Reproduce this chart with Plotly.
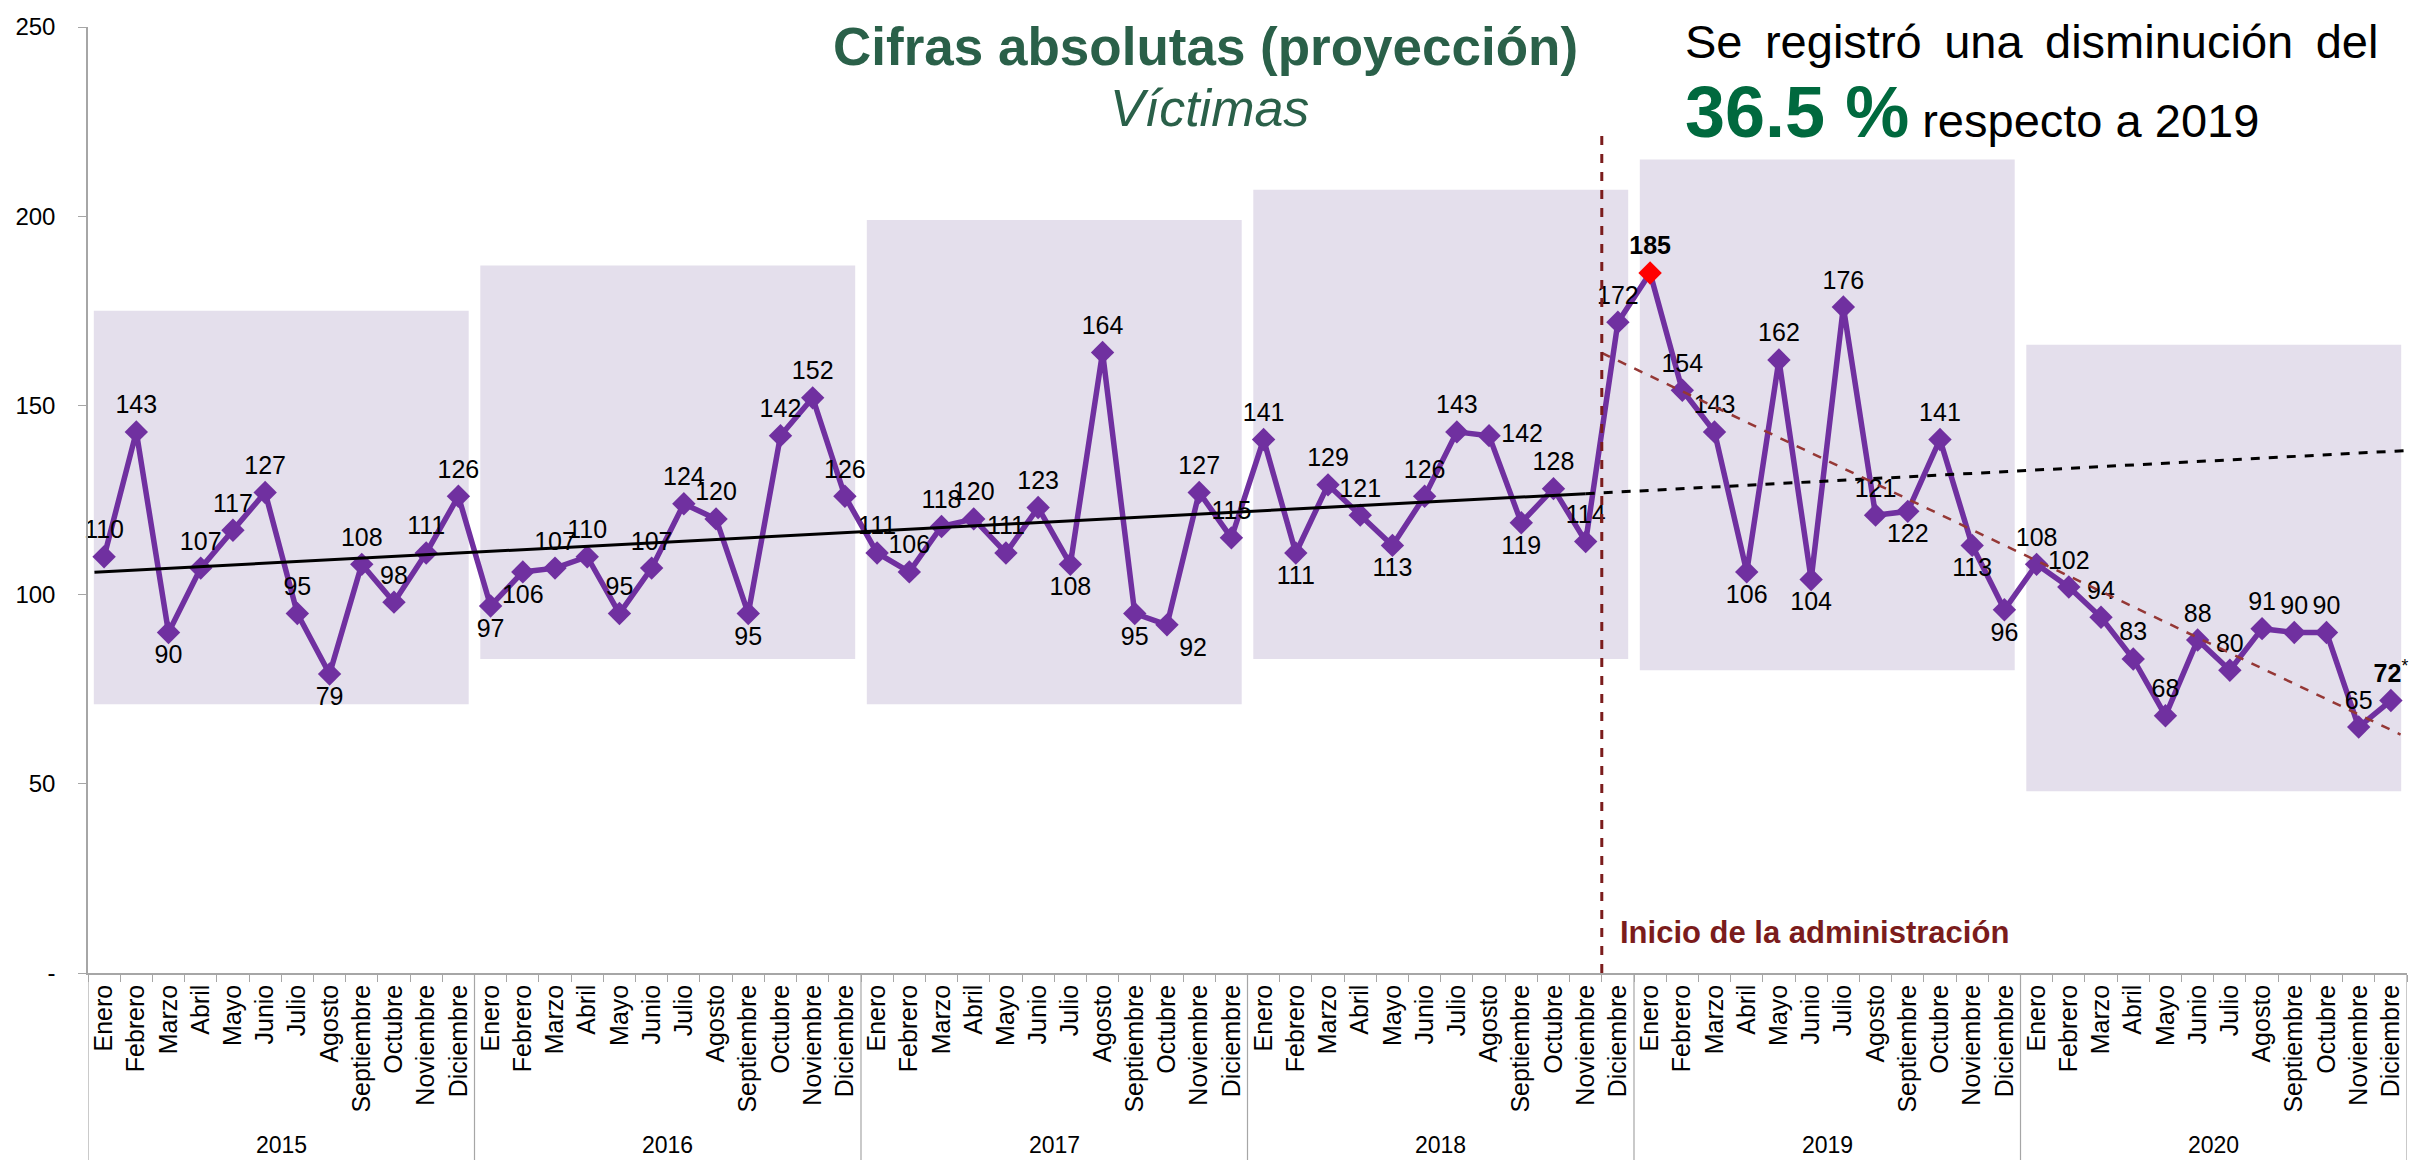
import plotly.graph_objects as go
import numpy as np

# ---------------- data ----------------
years = ["2015", "2016", "2017", "2018", "2019", "2020"]
months = ["Enero", "Febrero", "Marzo", "Abril", "Mayo", "Junio", "Julio",
          "Agosto", "Septiembre", "Octubre", "Noviembre", "Diciembre"]
v2015 = [110, 143, 90, 107, 117, 127, 95, 79, 108, 98, 111, 126]
v2016 = [97, 106, 107, 110, 95, 107, 124, 120, 95, 142, 152, 126]
v2017 = [111, 106, 118, 120, 111, 123, 108, 164, 95, 92, 127, 115]
v2018 = [141, 111, 129, 121, 113, 126, 143, 142, 119, 128, 114, 172]
v2019 = [185, 154, 143, 106, 162, 104, 176, 121, 122, 141, 113, 96]
v2020 = [108, 102, 94, 83, 68, 88, 80, 91, 90, 90, 65, 72]
y_tick_vals = [0, 50, 100, 150, 200, 250]
y_tick_text = ["-", "50", "100", "150", "200", "250"]
# shaded year panels (low, high)
band_low = [71, 83, 71, 83, 80, 48]
band_high = [175, 187, 199, 207, 215, 166]

# ---------------- styling ----------------
TC, BC = "top center", "bottom center"
pos2015 = [TC, TC, BC, TC, TC, TC, TC, BC, TC, TC, TC, TC]
pos2016 = [BC, BC, TC, TC, TC, TC, TC, TC, BC, TC, TC, TC]
pos2017 = [TC, TC, TC, TC, TC, TC, BC, TC, BC, "bottom right", TC, TC]
pos2018 = [TC, BC, TC, TC, BC, TC, TC, "middle right", BC, TC, TC, TC]
pos2019 = [TC, TC, TC, BC, TC, BC, TC, TC, BC, TC, BC, BC]
pos2020 = [TC] * 12

FONT = "Liberation Sans, Arial, sans-serif"
PURPLE = "#7030A0"
BAND = "#E4DFEC"
DARKRED = "#7B1C1C"
TREND_RED = "#953735"

values = v2015 + v2016 + v2017 + v2018 + v2019 + v2020
positions = pos2015 + pos2016 + pos2017 + pos2018 + pos2019 + pos2020
n = len(values)
x = list(range(n))
labels = [m for _ in years for m in months]

imax = int(np.argmax(values))
texts = []
for i, v in enumerate(values):
    if i == imax:
        texts.append(f"<b>{v}</b>")
    elif i == n - 1:
        texts.append(f"<b>{v}</b><sup>*</sup>")
    else:
        texts.append(str(v))
mcolors = [("#FF0000" if i == imax else PURPLE) for i in range(n)]

# pixel geometry of plot area
W, H = 2412, 1160
L, R, T, B = 88, 2407, 27, 973


def px(xp):
    return (xp - L) / (R - L)


def py(yp):
    return (B - yp) / (B - T)


fig = go.Figure()

# shaded year bands
for k in range(len(years)):
    fig.add_shape(type="rect", xref="x", yref="y",
                  x0=12 * k - 0.5 + 0.18, x1=12 * k + 11.5 - 0.18,
                  y0=band_low[k], y1=band_high[k],
                  fillcolor=BAND, line=dict(width=0), layer="below")

# year separator lines below axis
for k in range(len(years) + 1):
    fig.add_shape(type="line", xref="x", yref="paper",
                  x0=12 * k - 0.5, x1=12 * k - 0.5, y0=0, y1=-0.25,
                  line=dict(color="#A6A6A6", width=1.2))

# main series
fig.add_trace(go.Scatter(
    x=x, y=values, mode="lines+markers+text",
    line=dict(color=PURPLE, width=5.5),
    marker=dict(symbol="diamond", size=18, color=mcolors,
                line=dict(width=0)),
    text=texts, textposition=positions,
    textfont=dict(family=FONT, size=25, color="#000000"),
    cliponaxis=False, showlegend=False, hoverinfo="x+y"))

# linear trend 2015 - Nov 2018
n_pre = 47
c_pre = np.polyfit(np.arange(n_pre), np.array(values[:n_pre]), 1)
xs_solid = np.array([-0.3, n_pre - 1])
xs_dash = np.array([n_pre - 1, n - 0.5])
fig.add_trace(go.Scatter(x=xs_solid, y=np.polyval(c_pre, xs_solid), mode="lines",
                         line=dict(color="#000000", width=3), showlegend=False, hoverinfo="skip"))
fig.add_trace(go.Scatter(x=xs_dash, y=np.polyval(c_pre, xs_dash), mode="lines",
                         line=dict(color="#000000", width=3, dash="dash"), showlegend=False,
                         hoverinfo="skip"))

# linear trend Dec 2018 - Dec 2020
x_post = np.arange(n_pre, n)
c_post = np.polyfit(x_post, np.array(values[n_pre:]), 1)
xs_post = np.array([46.5, n - 0.7])
fig.add_trace(go.Scatter(x=xs_post, y=np.polyval(c_post, xs_post), mode="lines",
                         line=dict(color=TREND_RED, width=2.5, dash="dash"), showlegend=False,
                         hoverinfo="skip"))

# start of administration line
fig.add_shape(type="line", xref="x", yref="y", x0=46.5, x1=46.5, y0=0, y1=223,
              line=dict(color=DARKRED, width=3, dash="dash"))

# year labels
for k, yr in enumerate(years):
    fig.add_annotation(x=12 * k + 5.5, xref="x", y=py(1145), yref="paper",
                       text=yr, showarrow=False, xanchor="center", yanchor="middle",
                       font=dict(family=FONT, size=23, color="#000000"))

# titles
fig.add_annotation(x=px(1205), y=py(46), xref="paper", yref="paper",
                   text="<b>Cifras absolutas (proyección)</b>", showarrow=False,
                   xanchor="center", yanchor="middle",
                   font=dict(family=FONT, size=53, color="#2A6049"))
fig.add_annotation(x=px(1209), y=py(108), xref="paper", yref="paper",
                   text="<i>Víctimas</i>", showarrow=False,
                   xanchor="center", yanchor="middle",
                   font=dict(family=FONT, size=52, color="#2A6049"))

sp = "\u00a0\u2009"
fig.add_annotation(x=px(1683), y=py(42), xref="paper", yref="paper",
                   text=sp.join(["Se", "registró", "una", "disminución", "del"]),
                   showarrow=False, xanchor="left", yanchor="middle",
                   font=dict(family=FONT, size=47, color="#000000"))
fig.add_annotation(x=px(1683), y=py(112), xref="paper", yref="paper",
                   text="<span style='font-size:72px;color:#00693E'><b>36.5 %</b></span> respecto a 2019",
                   showarrow=False, xanchor="left", yanchor="middle",
                   font=dict(family=FONT, size=47, color="#000000"))

fig.add_annotation(x=px(1618), y=py(932), xref="paper", yref="paper",
                   text="<b>Inicio de la administración</b>", showarrow=False,
                   xanchor="left", yanchor="middle",
                   font=dict(family=FONT, size=31, color=DARKRED))

fig.update_layout(
    width=W, height=H,
    margin=dict(l=L, r=W - R, t=T, b=H - B, autoexpand=False),
    paper_bgcolor="#FFFFFF", plot_bgcolor="rgba(0,0,0,0)",
    showlegend=False,
    xaxis=dict(range=[-0.5, n - 0.5], tickmode="array", tickvals=x, ticktext=labels,
               tickangle=-90, ticks="", showgrid=False, zeroline=False,
               showline=True, linecolor="#A6A6A6", linewidth=1.5,
               tickfont=dict(family=FONT, size=25, color="#000000"),
               minor=dict(tickmode="linear", tick0=-0.5, dtick=1, ticks="outside",
                          ticklen=7, tickcolor="#A6A6A6", tickwidth=1.2, showgrid=False)),
    yaxis=dict(range=[0, 250], tickmode="array", tickvals=y_tick_vals, ticktext=y_tick_text,
               ticks="outside", ticklen=8, tickcolor="#A6A6A6", tickwidth=1.2,
               showgrid=False, zeroline=False, showline=True, linecolor="#A6A6A6",
               linewidth=1.5, ticklabelstandoff=18,
               tickfont=dict(family=FONT, size=24, color="#000000")),
)

fig.write_html("out.html", config={"displayModeBar": False},
               post_script="document.body.style.margin='0';document.body.style.overflow='hidden';")
